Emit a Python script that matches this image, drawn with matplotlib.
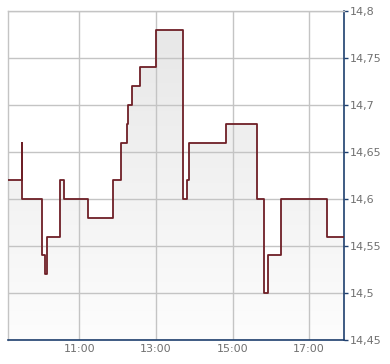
import matplotlib
matplotlib.use("Agg")
import matplotlib.pyplot as plt
import numpy as np
from matplotlib.colors import LinearSegmentedColormap
from matplotlib.ticker import FuncFormatter, FixedLocator

# price changes (time, new price), step after each time
times = ["9:09", "9:30", "9:31", "10:02", "10:07", "10:09", "10:30", "10:36",
         "11:14", "11:53", "12:06", "12:15", "12:17", "12:23", "12:35", "13:01",
         "13:43", "13:49", "13:52", "14:50", "15:39", "15:49", "15:56", "16:16",
         "17:28", "17:55"]
prices = [14.62, 14.66, 14.60, 14.54, 14.52, 14.56, 14.62, 14.60,
          14.58, 14.62, 14.66, 14.68, 14.70, 14.72, 14.74, 14.78,
          14.60, 14.62, 14.66, 14.68, 14.60, 14.50, 14.54, 14.60,
          14.56, 14.56]
y_ticks = [14.45, 14.5, 14.55, 14.6, 14.65, 14.7, 14.75, 14.8]
x_ticks = [11, 13, 15, 17]


def to_hours(s):
    h, m = s.split(":")
    return int(h) + int(m) / 60


x = np.array([to_hours(t) for t in times])
y = np.array(prices)

line_col = "#6e1f26"
axis_col = "#1e3f6e"
grid_col = "#c4c4c4"
text_col = "#707070"

fig = plt.figure(figsize=(3.9, 3.64), dpi=100)
ax = fig.add_axes([0.0213, 0.0659, 0.8615, 0.9038])
ax.set_xlim(x[0], x[-1])
ax.set_ylim(14.45, 14.8)

# gradient fill under the step line
fill = ax.fill_between(x, y, 14.45, step="post", color="none", lw=0)
cmap = LinearSegmentedColormap.from_list("g", ["#fdfdfd", "#e6e6e6"])
grad = np.linspace(0, 1, 256).reshape(-1, 1)
im = ax.imshow(grad, extent=[x[0], x[-1], 14.45, 14.8], origin="lower",
               aspect="auto", cmap=cmap, zorder=0.2)
im.set_clip_path(fill.get_paths()[0], transform=ax.transData)

ax.step(x, y, where="post", color=line_col, lw=1.3, zorder=3)

ax.yaxis.tick_right()
ax.yaxis.set_major_locator(FixedLocator(y_ticks))
ax.yaxis.set_major_formatter(FuncFormatter(lambda v, p: f"{v:g}".replace(".", ",")))
ax.xaxis.set_major_locator(FixedLocator(x_ticks))
ax.xaxis.set_major_formatter(FuncFormatter(lambda v, p: f"{int(v)}:00"))
ax.tick_params(axis="y", colors=axis_col, labelcolor=text_col, labelsize=8,
               length=3, width=1, pad=1)
ax.tick_params(axis="x", length=0, labelcolor=text_col, labelsize=8, pad=3)

ax.set_axisbelow(True)
ax.grid(True, color=grid_col, lw=1)
for side in ["left", "top"]:
    ax.spines[side].set_color(grid_col)
    ax.spines[side].set_linewidth(1)
for side in ["right", "bottom"]:
    ax.spines[side].set_color(axis_col)
    ax.spines[side].set_linewidth(1.2)

fig.savefig("out.png", dpi=100)
